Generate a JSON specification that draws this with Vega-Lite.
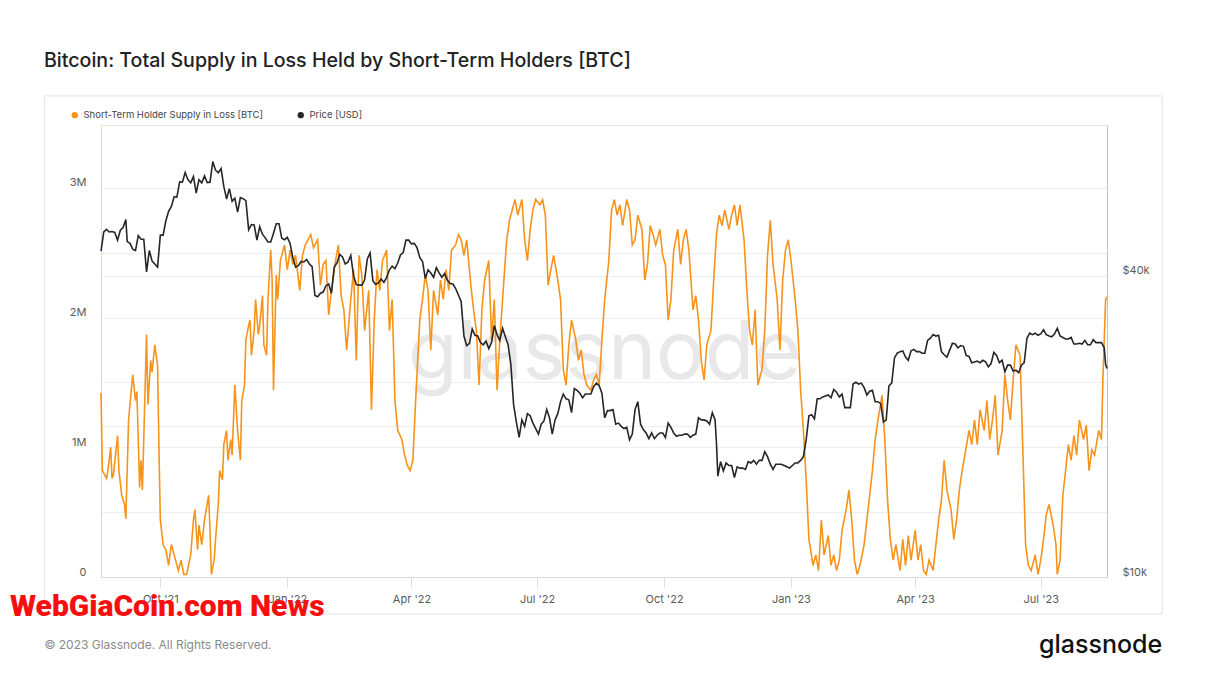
{
  "$schema": "https://vega.github.io/schema/vega-lite/v6.json",
  "width": 1006,
  "height": 452,
  "autosize": {"type": "none"},
  "padding": {"left": 101, "top": 125, "right": 125, "bottom": 111},
  "background": "white",
  "title": {"text": "Bitcoin: Total Supply in Loss Held by Short-Term Holders [BTC]", "anchor": "start", "frame": "group", "dx": -57, "offset": 24, "fontSize": 19.6, "fontWeight": 500, "color": "#222222", "font": "Inter"},
  "config": {
    "font": "Inter",
    "view": {"stroke": "#e6e6e6"},
    "axis": {"labelFont": "Inter", "labelFontSize": 11, "labelColor": "#5a5a5a", "gridColor": "#efefef", "domainColor": "#dddddd", "tickColor": "#dddddd"}
  },
  "datasets": {
    "supply": [
      {"d":"2021-08-19","v":1420000},{"d":"2021-08-20","v":820000},{"d":"2021-08-23","v":760000},{"d":"2021-08-24","v":820000},{"d":"2021-08-26","v":1000000},{"d":"2021-08-27","v":760000},{"d":"2021-08-28","v":790000},{"d":"2021-08-31","v":1090000},
      {"d":"2021-09-01","v":820000},{"d":"2021-09-03","v":630000},{"d":"2021-09-05","v":560000},{"d":"2021-09-06","v":450000},{"d":"2021-09-08","v":1210000},{"d":"2021-09-09","v":1330000},{"d":"2021-09-11","v":1560000},{"d":"2021-09-13","v":1360000},{"d":"2021-09-14","v":1430000},{"d":"2021-09-16","v":690000},{"d":"2021-09-17","v":900000},{"d":"2021-09-18","v":670000},{"d":"2021-09-21","v":1870000},{"d":"2021-09-22","v":1330000},{"d":"2021-09-24","v":1670000},{"d":"2021-09-25","v":1580000},{"d":"2021-09-27","v":1790000},{"d":"2021-09-29","v":1630000},{"d":"2021-09-30","v":980000},
      {"d":"2021-10-01","v":440000},{"d":"2021-10-03","v":250000},{"d":"2021-10-05","v":210000},{"d":"2021-10-07","v":90000},{"d":"2021-10-09","v":250000},{"d":"2021-10-12","v":130000},{"d":"2021-10-14","v":50000},{"d":"2021-10-16","v":130000},{"d":"2021-10-18","v":20000},{"d":"2021-10-20","v":20000},{"d":"2021-10-23","v":170000},{"d":"2021-10-25","v":440000},{"d":"2021-10-26","v":520000},{"d":"2021-10-28","v":210000},{"d":"2021-10-29","v":400000},{"d":"2021-10-31","v":250000},
      {"d":"2021-11-02","v":440000},{"d":"2021-11-05","v":630000},{"d":"2021-11-06","v":360000},{"d":"2021-11-07","v":20000},{"d":"2021-11-09","v":130000},{"d":"2021-11-10","v":290000},{"d":"2021-11-12","v":560000},{"d":"2021-11-13","v":820000},{"d":"2021-11-15","v":750000},{"d":"2021-11-16","v":1020000},{"d":"2021-11-18","v":1130000},{"d":"2021-11-19","v":900000},{"d":"2021-11-21","v":1060000},{"d":"2021-11-22","v":940000},{"d":"2021-11-24","v":1480000},{"d":"2021-11-26","v":1130000},{"d":"2021-11-28","v":900000},{"d":"2021-11-29","v":1360000},
      {"d":"2021-12-01","v":1480000},{"d":"2021-12-02","v":1830000},{"d":"2021-12-04","v":1940000},{"d":"2021-12-05","v":1980000},{"d":"2021-12-06","v":1710000},{"d":"2021-12-08","v":1900000},{"d":"2021-12-09","v":2140000},{"d":"2021-12-11","v":1870000},{"d":"2021-12-12","v":1940000},{"d":"2021-12-14","v":2170000},{"d":"2021-12-15","v":1790000},{"d":"2021-12-17","v":1710000},{"d":"2021-12-18","v":2140000},{"d":"2021-12-20","v":2520000},{"d":"2021-12-21","v":2290000},{"d":"2021-12-22","v":1440000},{"d":"2021-12-24","v":2330000},{"d":"2021-12-25","v":2140000},{"d":"2021-12-27","v":2440000},{"d":"2021-12-30","v":2560000},
      {"d":"2022-01-01","v":2370000},{"d":"2022-01-03","v":2520000},{"d":"2022-01-05","v":2410000},{"d":"2022-01-07","v":2480000},{"d":"2022-01-10","v":2210000},{"d":"2022-01-12","v":2480000},{"d":"2022-01-14","v":2560000},{"d":"2022-01-16","v":2600000},{"d":"2022-01-18","v":2640000},{"d":"2022-01-20","v":2540000},{"d":"2022-01-23","v":2600000},{"d":"2022-01-25","v":2250000},{"d":"2022-01-27","v":2410000},{"d":"2022-01-29","v":2440000},{"d":"2022-01-31","v":2020000},
      {"d":"2022-02-02","v":2210000},{"d":"2022-02-05","v":2440000},{"d":"2022-02-07","v":2560000},{"d":"2022-02-09","v":2170000},{"d":"2022-02-11","v":2060000},{"d":"2022-02-13","v":1750000},{"d":"2022-02-16","v":2140000},{"d":"2022-02-18","v":2370000},{"d":"2022-02-20","v":1670000},{"d":"2022-02-22","v":2480000},{"d":"2022-02-24","v":2330000},{"d":"2022-02-26","v":1900000},
      {"d":"2022-03-01","v":2210000},{"d":"2022-03-03","v":1290000},{"d":"2022-03-05","v":1980000},{"d":"2022-03-07","v":2370000},{"d":"2022-03-09","v":2210000},{"d":"2022-03-11","v":2440000},{"d":"2022-03-14","v":2520000},{"d":"2022-03-16","v":1900000},{"d":"2022-03-18","v":2140000},{"d":"2022-03-20","v":1360000},{"d":"2022-03-22","v":1130000},{"d":"2022-03-25","v":1060000},{"d":"2022-03-27","v":940000},{"d":"2022-03-29","v":860000},{"d":"2022-03-31","v":820000},
      {"d":"2022-04-02","v":900000},{"d":"2022-04-04","v":1360000},{"d":"2022-04-07","v":1980000},{"d":"2022-04-09","v":2140000},{"d":"2022-04-11","v":2330000},{"d":"2022-04-13","v":2210000},{"d":"2022-04-15","v":1750000},{"d":"2022-04-17","v":2210000},{"d":"2022-04-20","v":2020000},{"d":"2022-04-22","v":2290000},{"d":"2022-04-24","v":2140000},{"d":"2022-04-26","v":2370000},{"d":"2022-04-28","v":2210000},{"d":"2022-04-30","v":2520000},
      {"d":"2022-05-03","v":2560000},{"d":"2022-05-05","v":2640000},{"d":"2022-05-07","v":2600000},{"d":"2022-05-09","v":2480000},{"d":"2022-05-11","v":2600000},{"d":"2022-05-14","v":2250000},{"d":"2022-05-16","v":2060000},{"d":"2022-05-18","v":1900000},{"d":"2022-05-20","v":1480000},{"d":"2022-05-22","v":2060000},{"d":"2022-05-24","v":2290000},{"d":"2022-05-27","v":2440000},{"d":"2022-05-29","v":1830000},{"d":"2022-05-31","v":2140000},
      {"d":"2022-06-02","v":1440000},{"d":"2022-06-04","v":1830000},{"d":"2022-06-06","v":2140000},{"d":"2022-06-09","v":2600000},{"d":"2022-06-11","v":2750000},{"d":"2022-06-13","v":2830000},{"d":"2022-06-15","v":2910000},{"d":"2022-06-17","v":2790000},{"d":"2022-06-20","v":2910000},{"d":"2022-06-22","v":2600000},{"d":"2022-06-24","v":2440000},{"d":"2022-06-26","v":2680000},{"d":"2022-06-28","v":2830000},{"d":"2022-06-30","v":2910000},
      {"d":"2022-07-03","v":2870000},{"d":"2022-07-05","v":2910000},{"d":"2022-07-07","v":2790000},{"d":"2022-07-09","v":2250000},{"d":"2022-07-11","v":2370000},{"d":"2022-07-13","v":2480000},{"d":"2022-07-16","v":2290000},{"d":"2022-07-18","v":2140000},{"d":"2022-07-20","v":1600000},{"d":"2022-07-22","v":1480000},{"d":"2022-07-24","v":1790000},{"d":"2022-07-26","v":1980000},{"d":"2022-07-29","v":1830000},{"d":"2022-07-31","v":1670000},
      {"d":"2022-08-02","v":1750000},{"d":"2022-08-04","v":1560000},{"d":"2022-08-06","v":1480000},{"d":"2022-08-09","v":1440000},{"d":"2022-08-11","v":1520000},{"d":"2022-08-13","v":1560000},{"d":"2022-08-15","v":1480000},{"d":"2022-08-17","v":1830000},{"d":"2022-08-19","v":2140000},{"d":"2022-08-22","v":2440000},{"d":"2022-08-24","v":2830000},{"d":"2022-08-26","v":2910000},{"d":"2022-08-28","v":2790000},{"d":"2022-08-30","v":2870000},
      {"d":"2022-09-01","v":2710000},{"d":"2022-09-04","v":2910000},{"d":"2022-09-06","v":2830000},{"d":"2022-09-08","v":2560000},{"d":"2022-09-10","v":2600000},{"d":"2022-09-12","v":2790000},{"d":"2022-09-15","v":2680000},{"d":"2022-09-17","v":2290000},{"d":"2022-09-19","v":2410000},{"d":"2022-09-21","v":2710000},{"d":"2022-09-23","v":2640000},{"d":"2022-09-25","v":2560000},{"d":"2022-09-28","v":2680000},{"d":"2022-09-30","v":2480000},
      {"d":"2022-10-02","v":2410000},{"d":"2022-10-04","v":1980000},{"d":"2022-10-06","v":2140000},{"d":"2022-10-08","v":2520000},{"d":"2022-10-11","v":2680000},{"d":"2022-10-13","v":2410000},{"d":"2022-10-15","v":2600000},{"d":"2022-10-17","v":2680000},{"d":"2022-10-19","v":2520000},{"d":"2022-10-22","v":2060000},{"d":"2022-10-24","v":2170000},{"d":"2022-10-26","v":1980000},{"d":"2022-10-28","v":1670000},{"d":"2022-10-30","v":1520000},
      {"d":"2022-11-01","v":1790000},{"d":"2022-11-04","v":1900000},{"d":"2022-11-06","v":2290000},{"d":"2022-11-08","v":2640000},{"d":"2022-11-10","v":2790000},{"d":"2022-11-12","v":2710000},{"d":"2022-11-14","v":2830000},{"d":"2022-11-17","v":2680000},{"d":"2022-11-19","v":2790000},{"d":"2022-11-21","v":2870000},{"d":"2022-11-23","v":2710000},{"d":"2022-11-25","v":2870000},{"d":"2022-11-28","v":2600000},{"d":"2022-11-30","v":2210000},
      {"d":"2022-12-02","v":1900000},{"d":"2022-12-04","v":1790000},{"d":"2022-12-06","v":2060000},{"d":"2022-12-08","v":1480000},{"d":"2022-12-11","v":1600000},{"d":"2022-12-13","v":1900000},{"d":"2022-12-15","v":2480000},{"d":"2022-12-17","v":2750000},{"d":"2022-12-19","v":2410000},{"d":"2022-12-22","v":2140000},{"d":"2022-12-24","v":1750000},{"d":"2022-12-26","v":2290000},{"d":"2022-12-28","v":2520000},{"d":"2022-12-30","v":2600000},
      {"d":"2023-01-01","v":2440000},{"d":"2023-01-04","v":2140000},{"d":"2023-01-06","v":1900000},{"d":"2023-01-08","v":1440000},{"d":"2023-01-10","v":1130000},{"d":"2023-01-12","v":750000},{"d":"2023-01-14","v":290000},{"d":"2023-01-17","v":90000},{"d":"2023-01-19","v":170000},{"d":"2023-01-21","v":50000},{"d":"2023-01-23","v":440000},{"d":"2023-01-25","v":170000},{"d":"2023-01-28","v":320000},{"d":"2023-01-30","v":90000},
      {"d":"2023-02-01","v":170000},{"d":"2023-02-03","v":50000},{"d":"2023-02-05","v":130000},{"d":"2023-02-07","v":360000},{"d":"2023-02-10","v":520000},{"d":"2023-02-12","v":670000},{"d":"2023-02-14","v":440000},{"d":"2023-02-16","v":130000},{"d":"2023-02-18","v":20000},{"d":"2023-02-20","v":90000},{"d":"2023-02-23","v":250000},{"d":"2023-02-25","v":440000},{"d":"2023-02-27","v":630000},
      {"d":"2023-03-01","v":820000},{"d":"2023-03-03","v":1060000},{"d":"2023-03-05","v":1210000},{"d":"2023-03-08","v":1400000},{"d":"2023-03-10","v":1060000},{"d":"2023-03-12","v":590000},{"d":"2023-03-14","v":290000},{"d":"2023-03-16","v":130000},{"d":"2023-03-18","v":250000},{"d":"2023-03-21","v":50000},{"d":"2023-03-23","v":290000},{"d":"2023-03-25","v":90000},{"d":"2023-03-27","v":320000},{"d":"2023-03-29","v":130000},
      {"d":"2023-04-01","v":360000},{"d":"2023-04-03","v":130000},{"d":"2023-04-05","v":250000},{"d":"2023-04-07","v":50000},{"d":"2023-04-09","v":20000},{"d":"2023-04-11","v":130000},{"d":"2023-04-14","v":50000},{"d":"2023-04-16","v":250000},{"d":"2023-04-18","v":440000},{"d":"2023-04-20","v":590000},{"d":"2023-04-22","v":900000},{"d":"2023-04-24","v":670000},{"d":"2023-04-27","v":520000},{"d":"2023-04-29","v":290000},
      {"d":"2023-05-01","v":440000},{"d":"2023-05-03","v":670000},{"d":"2023-05-05","v":820000},{"d":"2023-05-07","v":940000},{"d":"2023-05-10","v":1130000},{"d":"2023-05-12","v":1020000},{"d":"2023-05-14","v":1210000},{"d":"2023-05-16","v":1020000},{"d":"2023-05-18","v":1290000},{"d":"2023-05-21","v":1130000},{"d":"2023-05-23","v":1360000},{"d":"2023-05-25","v":1060000},{"d":"2023-05-27","v":1210000},{"d":"2023-05-29","v":1400000},{"d":"2023-05-31","v":940000},
      {"d":"2023-06-03","v":1130000},{"d":"2023-06-05","v":1560000},{"d":"2023-06-07","v":1360000},{"d":"2023-06-09","v":1210000},{"d":"2023-06-11","v":1520000},{"d":"2023-06-13","v":1790000},{"d":"2023-06-16","v":1710000},{"d":"2023-06-18","v":980000},{"d":"2023-06-20","v":250000},{"d":"2023-06-22","v":90000},{"d":"2023-06-24","v":50000},{"d":"2023-06-27","v":170000},{"d":"2023-06-29","v":20000},
      {"d":"2023-07-01","v":130000},{"d":"2023-07-03","v":290000},{"d":"2023-07-05","v":480000},{"d":"2023-07-07","v":560000},{"d":"2023-07-10","v":400000},{"d":"2023-07-12","v":250000},{"d":"2023-07-13","v":20000},{"d":"2023-07-15","v":130000},{"d":"2023-07-17","v":630000},{"d":"2023-07-19","v":820000},{"d":"2023-07-21","v":1020000},{"d":"2023-07-23","v":900000},{"d":"2023-07-25","v":1090000},{"d":"2023-07-27","v":940000},{"d":"2023-07-29","v":1210000},
      {"d":"2023-08-01","v":1060000},{"d":"2023-08-03","v":1170000},{"d":"2023-08-05","v":820000},{"d":"2023-08-07","v":980000},{"d":"2023-08-09","v":940000},{"d":"2023-08-12","v":1130000},{"d":"2023-08-14","v":1060000},{"d":"2023-08-15","v":1520000},{"d":"2023-08-17","v":2140000},{"d":"2023-08-18","v":2160000}
    ],
    "price": [
      {"d":"2021-08-19","p":44800},{"d":"2021-08-21","p":48900},{"d":"2021-08-23","p":49500},{"d":"2021-08-25","p":48900},{"d":"2021-08-27","p":49000},{"d":"2021-08-29","p":48800},{"d":"2021-08-31","p":47100},
      {"d":"2021-09-02","p":49300},{"d":"2021-09-04","p":49900},{"d":"2021-09-06","p":51800},{"d":"2021-09-07","p":46800},{"d":"2021-09-09","p":46400},{"d":"2021-09-11","p":45200},{"d":"2021-09-13","p":44900},{"d":"2021-09-15","p":48100},{"d":"2021-09-17","p":47300},{"d":"2021-09-19","p":47300},{"d":"2021-09-21","p":40700},{"d":"2021-09-23","p":44900},{"d":"2021-09-25","p":42800},{"d":"2021-09-27","p":42200},{"d":"2021-09-29","p":41600},
      {"d":"2021-10-01","p":48200},{"d":"2021-10-03","p":48200},{"d":"2021-10-05","p":51500},{"d":"2021-10-07","p":53800},{"d":"2021-10-09","p":55000},{"d":"2021-10-11","p":57500},{"d":"2021-10-13","p":57400},{"d":"2021-10-15","p":61600},{"d":"2021-10-17","p":61500},{"d":"2021-10-19","p":64300},{"d":"2021-10-21","p":62200},{"d":"2021-10-23","p":61300},{"d":"2021-10-25","p":63100},{"d":"2021-10-27","p":58500},{"d":"2021-10-29","p":62200},{"d":"2021-10-31","p":61300},
      {"d":"2021-11-02","p":63300},{"d":"2021-11-04","p":61400},{"d":"2021-11-06","p":61500},{"d":"2021-11-08","p":67600},{"d":"2021-11-10","p":65000},{"d":"2021-11-12","p":64200},{"d":"2021-11-14","p":65500},{"d":"2021-11-16","p":60300},{"d":"2021-11-18","p":56900},{"d":"2021-11-20","p":59700},{"d":"2021-11-22","p":56300},{"d":"2021-11-24","p":57100},{"d":"2021-11-26","p":53600},{"d":"2021-11-28","p":57300},{"d":"2021-11-30","p":57000},
      {"d":"2021-12-02","p":56500},{"d":"2021-12-04","p":49400},{"d":"2021-12-06","p":50600},{"d":"2021-12-08","p":50500},{"d":"2021-12-10","p":47100},{"d":"2021-12-12","p":50100},{"d":"2021-12-14","p":48400},{"d":"2021-12-16","p":47600},{"d":"2021-12-18","p":46700},{"d":"2021-12-20","p":46700},{"d":"2021-12-22","p":48600},{"d":"2021-12-24","p":50800},{"d":"2021-12-26","p":50800},{"d":"2021-12-28","p":47500},{"d":"2021-12-30","p":47200},
      {"d":"2022-01-01","p":47700},{"d":"2022-01-03","p":46400},{"d":"2022-01-05","p":43500},{"d":"2022-01-07","p":41600},{"d":"2022-01-09","p":41900},{"d":"2022-01-11","p":42700},{"d":"2022-01-13","p":42600},{"d":"2022-01-15","p":43100},{"d":"2022-01-17","p":42200},{"d":"2022-01-19","p":41700},{"d":"2022-01-21","p":36500},{"d":"2022-01-23","p":36300},{"d":"2022-01-25","p":36900},{"d":"2022-01-27","p":37100},{"d":"2022-01-29","p":38200},{"d":"2022-01-31","p":38500},
      {"d":"2022-02-02","p":36900},{"d":"2022-02-04","p":41600},{"d":"2022-02-06","p":42400},{"d":"2022-02-08","p":44100},{"d":"2022-02-10","p":43600},{"d":"2022-02-12","p":42200},{"d":"2022-02-14","p":42600},{"d":"2022-02-16","p":43900},{"d":"2022-02-18","p":40000},{"d":"2022-02-20","p":38400},{"d":"2022-02-22","p":38300},{"d":"2022-02-24","p":38300},{"d":"2022-02-26","p":39200},{"d":"2022-02-28","p":43200},
      {"d":"2022-03-02","p":44400},{"d":"2022-03-04","p":39100},{"d":"2022-03-06","p":38400},{"d":"2022-03-08","p":38700},{"d":"2022-03-10","p":39400},{"d":"2022-03-12","p":38800},{"d":"2022-03-14","p":39700},{"d":"2022-03-16","p":41100},{"d":"2022-03-18","p":41800},{"d":"2022-03-20","p":41300},{"d":"2022-03-22","p":42400},{"d":"2022-03-24","p":44000},{"d":"2022-03-26","p":44500},{"d":"2022-03-28","p":47100},{"d":"2022-03-30","p":47100},
      {"d":"2022-04-01","p":46300},{"d":"2022-04-03","p":46400},{"d":"2022-04-05","p":45500},{"d":"2022-04-07","p":43500},{"d":"2022-04-09","p":42700},{"d":"2022-04-11","p":39500},{"d":"2022-04-13","p":41100},{"d":"2022-04-15","p":40500},{"d":"2022-04-17","p":39700},{"d":"2022-04-19","p":41500},{"d":"2022-04-21","p":40500},{"d":"2022-04-23","p":39700},{"d":"2022-04-25","p":40400},{"d":"2022-04-27","p":39200},{"d":"2022-04-29","p":38600},
      {"d":"2022-05-01","p":38500},{"d":"2022-05-03","p":37700},{"d":"2022-05-05","p":36600},{"d":"2022-05-07","p":35500},{"d":"2022-05-09","p":30300},{"d":"2022-05-11","p":29000},{"d":"2022-05-13","p":29300},{"d":"2022-05-15","p":31300},{"d":"2022-05-17","p":30400},{"d":"2022-05-19","p":30300},{"d":"2022-05-21","p":29400},{"d":"2022-05-23","p":29100},{"d":"2022-05-25","p":29600},{"d":"2022-05-27","p":28600},{"d":"2022-05-29","p":29400},{"d":"2022-05-31","p":31800},
      {"d":"2022-06-02","p":30500},{"d":"2022-06-04","p":29700},{"d":"2022-06-06","p":31400},{"d":"2022-06-08","p":30200},{"d":"2022-06-10","p":29100},{"d":"2022-06-12","p":26600},{"d":"2022-06-14","p":22100},{"d":"2022-06-16","p":20400},{"d":"2022-06-18","p":19000},{"d":"2022-06-20","p":20600},{"d":"2022-06-22","p":20000},{"d":"2022-06-24","p":21200},{"d":"2022-06-26","p":21000},{"d":"2022-06-28","p":20300},{"d":"2022-06-30","p":19800},
      {"d":"2022-07-02","p":19300},{"d":"2022-07-04","p":20200},{"d":"2022-07-06","p":20500},{"d":"2022-07-08","p":21600},{"d":"2022-07-10","p":20800},{"d":"2022-07-12","p":19300},{"d":"2022-07-14","p":20600},{"d":"2022-07-16","p":21200},{"d":"2022-07-18","p":22400},{"d":"2022-07-20","p":23200},{"d":"2022-07-22","p":22700},{"d":"2022-07-24","p":22600},{"d":"2022-07-26","p":21300},{"d":"2022-07-28","p":23800},{"d":"2022-07-30","p":23600},
      {"d":"2022-08-01","p":23300},{"d":"2022-08-03","p":22800},{"d":"2022-08-05","p":23200},{"d":"2022-08-07","p":23200},{"d":"2022-08-09","p":23200},{"d":"2022-08-11","p":24000},{"d":"2022-08-13","p":24400},{"d":"2022-08-15","p":24100},{"d":"2022-08-17","p":23300},{"d":"2022-08-19","p":20800},{"d":"2022-08-21","p":21500},{"d":"2022-08-23","p":21500},{"d":"2022-08-25","p":21600},{"d":"2022-08-27","p":20200},{"d":"2022-08-29","p":20300},{"d":"2022-08-31","p":20000},
      {"d":"2022-09-02","p":19800},{"d":"2022-09-04","p":19900},{"d":"2022-09-06","p":18800},{"d":"2022-09-08","p":19300},{"d":"2022-09-10","p":21600},{"d":"2022-09-12","p":22400},{"d":"2022-09-14","p":20200},{"d":"2022-09-16","p":19700},{"d":"2022-09-18","p":19400},{"d":"2022-09-20","p":18900},{"d":"2022-09-22","p":19400},{"d":"2022-09-24","p":18900},{"d":"2022-09-26","p":19200},{"d":"2022-09-28","p":19400},{"d":"2022-09-30","p":19400},
      {"d":"2022-10-02","p":19000},{"d":"2022-10-04","p":20300},{"d":"2022-10-06","p":19900},{"d":"2022-10-08","p":19400},{"d":"2022-10-10","p":19100},{"d":"2022-10-12","p":19200},{"d":"2022-10-14","p":19200},{"d":"2022-10-16","p":19300},{"d":"2022-10-18","p":19300},{"d":"2022-10-20","p":19000},{"d":"2022-10-22","p":19200},{"d":"2022-10-24","p":19300},{"d":"2022-10-26","p":20800},{"d":"2022-10-28","p":20600},{"d":"2022-10-30","p":20600},
      {"d":"2022-11-01","p":20500},{"d":"2022-11-03","p":20200},{"d":"2022-11-05","p":21300},{"d":"2022-11-07","p":20600},{"d":"2022-11-08","p":18500},{"d":"2022-11-09","p":15900},{"d":"2022-11-11","p":17000},{"d":"2022-11-13","p":16300},{"d":"2022-11-15","p":16900},{"d":"2022-11-17","p":16700},{"d":"2022-11-19","p":16700},{"d":"2022-11-21","p":15800},{"d":"2022-11-23","p":16600},{"d":"2022-11-25","p":16500},{"d":"2022-11-27","p":16500},{"d":"2022-11-29","p":16400},
      {"d":"2022-12-01","p":17000},{"d":"2022-12-03","p":16900},{"d":"2022-12-05","p":17100},{"d":"2022-12-07","p":16800},{"d":"2022-12-09","p":17100},{"d":"2022-12-11","p":17100},{"d":"2022-12-13","p":17800},{"d":"2022-12-15","p":17400},{"d":"2022-12-17","p":16800},{"d":"2022-12-19","p":16400},{"d":"2022-12-21","p":16800},{"d":"2022-12-23","p":16800},{"d":"2022-12-25","p":16800},{"d":"2022-12-27","p":16700},{"d":"2022-12-29","p":16600},{"d":"2022-12-31","p":16500},
      {"d":"2023-01-02","p":16700},{"d":"2023-01-04","p":16900},{"d":"2023-01-06","p":16900},{"d":"2023-01-08","p":17100},{"d":"2023-01-10","p":17400},{"d":"2023-01-12","p":18800},{"d":"2023-01-14","p":21000},{"d":"2023-01-16","p":21100},{"d":"2023-01-18","p":20700},{"d":"2023-01-20","p":22700},{"d":"2023-01-22","p":22700},{"d":"2023-01-24","p":22900},{"d":"2023-01-26","p":23000},{"d":"2023-01-28","p":23100},{"d":"2023-01-30","p":22800},
      {"d":"2023-02-01","p":23700},{"d":"2023-02-03","p":23400},{"d":"2023-02-05","p":22900},{"d":"2023-02-07","p":23200},{"d":"2023-02-09","p":21800},{"d":"2023-02-11","p":21800},{"d":"2023-02-13","p":21800},{"d":"2023-02-15","p":24300},{"d":"2023-02-17","p":24500},{"d":"2023-02-19","p":24300},{"d":"2023-02-21","p":24400},{"d":"2023-02-23","p":23900},{"d":"2023-02-25","p":23100},{"d":"2023-02-27","p":23500},
      {"d":"2023-03-01","p":23600},{"d":"2023-03-03","p":22400},{"d":"2023-03-05","p":22400},{"d":"2023-03-07","p":22200},{"d":"2023-03-09","p":20400},{"d":"2023-03-11","p":20600},{"d":"2023-03-13","p":24100},{"d":"2023-03-15","p":24400},{"d":"2023-03-17","p":27400},{"d":"2023-03-19","p":28000},{"d":"2023-03-21","p":28200},{"d":"2023-03-23","p":28300},{"d":"2023-03-25","p":27500},{"d":"2023-03-27","p":27100},{"d":"2023-03-29","p":28300},{"d":"2023-03-31","p":28500},
      {"d":"2023-04-02","p":28200},{"d":"2023-04-04","p":28200},{"d":"2023-04-06","p":28000},{"d":"2023-04-08","p":28000},{"d":"2023-04-10","p":29700},{"d":"2023-04-12","p":30000},{"d":"2023-04-14","p":30500},{"d":"2023-04-16","p":30300},{"d":"2023-04-18","p":30400},{"d":"2023-04-20","p":28200},{"d":"2023-04-22","p":27800},{"d":"2023-04-24","p":27500},{"d":"2023-04-26","p":28400},{"d":"2023-04-28","p":29300},{"d":"2023-04-30","p":29200},
      {"d":"2023-05-02","p":28700},{"d":"2023-05-04","p":29000},{"d":"2023-05-06","p":28900},{"d":"2023-05-08","p":27700},{"d":"2023-05-10","p":27600},{"d":"2023-05-12","p":26800},{"d":"2023-05-14","p":26900},{"d":"2023-05-16","p":27000},{"d":"2023-05-18","p":26800},{"d":"2023-05-20","p":27100},{"d":"2023-05-22","p":26900},{"d":"2023-05-24","p":26300},{"d":"2023-05-26","p":26700},{"d":"2023-05-28","p":28100},{"d":"2023-05-30","p":27700},
      {"d":"2023-06-01","p":26800},{"d":"2023-06-03","p":27100},{"d":"2023-06-05","p":25700},{"d":"2023-06-07","p":26500},{"d":"2023-06-09","p":26500},{"d":"2023-06-11","p":25800},{"d":"2023-06-13","p":25900},{"d":"2023-06-15","p":25600},{"d":"2023-06-17","p":26500},{"d":"2023-06-19","p":26800},{"d":"2023-06-21","p":30000},{"d":"2023-06-23","p":30700},{"d":"2023-06-25","p":30500},{"d":"2023-06-27","p":30700},{"d":"2023-06-29","p":30400},
      {"d":"2023-07-01","p":30600},{"d":"2023-07-03","p":31200},{"d":"2023-07-05","p":30500},{"d":"2023-07-07","p":30300},{"d":"2023-07-09","p":30200},{"d":"2023-07-11","p":30600},{"d":"2023-07-13","p":31400},{"d":"2023-07-15","p":30300},{"d":"2023-07-17","p":30100},{"d":"2023-07-19","p":29900},{"d":"2023-07-21","p":29900},{"d":"2023-07-23","p":30100},{"d":"2023-07-25","p":29200},{"d":"2023-07-27","p":29200},{"d":"2023-07-29","p":29300},{"d":"2023-07-31","p":29200},
      {"d":"2023-08-02","p":29700},{"d":"2023-08-04","p":29100},{"d":"2023-08-06","p":29100},{"d":"2023-08-08","p":29800},{"d":"2023-08-10","p":29400},{"d":"2023-08-12","p":29400},{"d":"2023-08-14","p":29400},{"d":"2023-08-16","p":28700},{"d":"2023-08-17","p":26600},{"d":"2023-08-18","p":26100}
    ]
  },
  "layer": [
    {
      "data": {"values": [{}]},
      "mark": {"type": "rect", "filled": false, "stroke": "#e3e3e3", "strokeWidth": 1, "clip": false},
      "encoding": {
        "x": {"datum": {"year": 2021, "month": 7, "date": 9, "utc": true}, "type": "temporal", "scale": {"type": "utc", "domain": [{"year": 2021, "month": 8, "date": 19, "utc": true}, {"year": 2023, "month": 8, "date": 18, "utc": true}]}},
        "x2": {"datum": {"year": 2023, "month": 9, "date": 27, "utc": true}},
        "y": {"datum": 3709000, "type": "quantitative", "axis": null, "scale": {"domain": [0, 3485000], "nice": false, "zero": false}},
        "y2": {"datum": -285000}
      }
    },
    {
      "data": {"values": [{}]},
      "mark": {"type": "text", "text": "glassnode", "font": "Inter", "fontSize": 81, "fontWeight": 400, "color": "#e8e8e8", "align": "center", "baseline": "middle", "clip": false},
      "encoding": {
        "x": {"datum": {"year": 2022, "month": 8, "date": 19, "utc": true}, "type": "temporal", "scale": {"type": "utc", "domain": [{"year": 2021, "month": 8, "date": 19, "utc": true}, {"year": 2023, "month": 8, "date": 18, "utc": true}]}},
        "y": {"datum": 1710000, "type": "quantitative", "axis": null, "scale": {"domain": [0, 3485000], "nice": false, "zero": false}}
      }
    },
    {
      "data": {"values": [{}]},
      "mark": {"type": "text", "text": "© 2023 Glassnode. All Rights Reserved.", "font": "Inter", "fontSize": 12, "color": "#8a8a8a", "align": "left", "baseline": "middle", "clip": false},
      "encoding": {
        "x": {"datum": {"year": 2021, "month": 7, "date": 9, "utc": true}, "type": "temporal", "scale": {"type": "utc", "domain": [{"year": 2021, "month": 8, "date": 19, "utc": true}, {"year": 2023, "month": 8, "date": 18, "utc": true}]}},
        "y": {"datum": -524000, "type": "quantitative", "axis": null, "scale": {"domain": [0, 3485000], "nice": false, "zero": false}}
      }
    },
    {
      "data": {"values": [{}]},
      "mark": {"type": "text", "text": "glassnode", "font": "Inter", "fontSize": 25, "fontWeight": 500, "color": "#111111", "align": "right", "baseline": "middle", "clip": false},
      "encoding": {
        "x": {"datum": {"year": 2023, "month": 9, "date": 27, "utc": true}, "type": "temporal", "scale": {"type": "utc", "domain": [{"year": 2021, "month": 8, "date": 19, "utc": true}, {"year": 2023, "month": 8, "date": 18, "utc": true}]}},
        "y": {"datum": -524000, "type": "quantitative", "axis": null, "scale": {"domain": [0, 3485000], "nice": false, "zero": false}}
      }
    },
    {
      "data": {"name": "supply"},
      "mark": {"type": "line", "strokeWidth": 1.6, "interpolate": "linear"},
      "encoding": {
        "x": {"field": "d", "type": "temporal", "scale": {"type": "utc", "domain": [{"year": 2021, "month": 8, "date": 19, "utc": true}, {"year": 2023, "month": 8, "date": 18, "utc": true}]},
          "axis": {"title": null, "grid": false, "values": [{"year": 2021, "month": 10, "date": 1, "utc": true}, {"year": 2022, "month": 1, "date": 1, "utc": true}, {"year": 2022, "month": 4, "date": 1, "utc": true}, {"year": 2022, "month": 7, "date": 1, "utc": true}, {"year": 2022, "month": 10, "date": 1, "utc": true}, {"year": 2023, "month": 1, "date": 1, "utc": true}, {"year": 2023, "month": 4, "date": 1, "utc": true}, {"year": 2023, "month": 7, "date": 1, "utc": true}],
            "labelExpr": "utcFormat(datum.value, \"%b '%y\")", "tickSize": 10, "labelPadding": 6, "domainColor": "#d9d9d9", "tickColor": "#dddddd", "labelFlush": false, "labelOverlap": false}},
        "y": {"field": "v", "type": "quantitative", "scale": {"domain": [0, 3485000], "nice": false, "zero": false},
          "axis": {"title": null, "values": [0, 500000, 1000000, 1500000, 2000000, 2500000, 3000000], "labelExpr": "datum.value == 0 ? '0' : (datum.value % 1000000 == 0 ? (datum.value / 1000000) + 'M' : '')", "ticks": false, "labelPadding": 15, "grid": true, "gridColor": "#eeeeee", "domainColor": "#f8d6a6", "labelBaseline": "alphabetic", "labelOffset": -2}},
        "color": {"datum": "Short-Term Holder Supply in Loss [BTC]", "type": "nominal",
          "scale": {"domain": ["Short-Term Holder Supply in Loss [BTC]", "Price [USD]"], "range": ["#f7931a", "#262626"]},
          "legend": {"title": null, "orient": "none", "legendX": -31, "legendY": -15, "direction": "horizontal", "symbolType": "circle", "symbolSize": 40, "symbolStrokeWidth": 0, "labelFont": "Inter", "labelFontSize": 9.5, "labelColor": "#444444", "labelOffset": 4, "labelLimit": 400, "columnPadding": 33,
            "encode": {"symbols": {"update": {"fill": {"scale": "color", "field": "value"}, "strokeWidth": {"value": 0}, "opacity": {"value": 1}}}}}}
      }
    },
    {
      "data": {"values": [{}]},
      "mark": {"type": "text", "text": "WebGiaCoin.com News", "font": "Roboto", "fontSize": 30, "fontWeight": 900, "color": "#f50f0f", "align": "left", "baseline": "middle", "clip": false},
      "encoding": {
        "x": {"datum": {"year": 2021, "month": 6, "date": 14, "utc": true}, "type": "temporal", "scale": {"type": "utc", "domain": [{"year": 2021, "month": 8, "date": 19, "utc": true}, {"year": 2023, "month": 8, "date": 18, "utc": true}]}},
        "y": {"datum": -231000, "type": "quantitative", "axis": null, "scale": {"domain": [0, 3485000], "nice": false, "zero": false}}
      }
    },
    {
      "data": {"name": "price"},
      "mark": {"type": "line", "strokeWidth": 1.6, "interpolate": "linear"},
      "encoding": {
        "x": {"field": "d", "type": "temporal", "scale": {"type": "utc", "domain": [{"year": 2021, "month": 8, "date": 19, "utc": true}, {"year": 2023, "month": 8, "date": 18, "utc": true}]}},
        "y": {"field": "p", "type": "quantitative", "scale": {"type": "log", "domain": [10000, 80000], "nice": false},
          "axis": {"orient": "right", "title": null, "values": [10000, 20000, 40000], "labelExpr": "datum.value == 20000 ? '' : '$' + round(datum.value / 1000) + 'k'", "ticks": false, "labelPadding": 15, "grid": true, "gridColor": "#eeeeee", "domainColor": "#c4c4c4", "labelBaseline": "alphabetic", "labelOffset": -2}},
        "color": {"datum": "Price [USD]", "type": "nominal", "legend": null}
      }
    }
  ],
  "resolve": {"scale": {"y": "independent"}, "axis": {"y": "independent"}}
}
